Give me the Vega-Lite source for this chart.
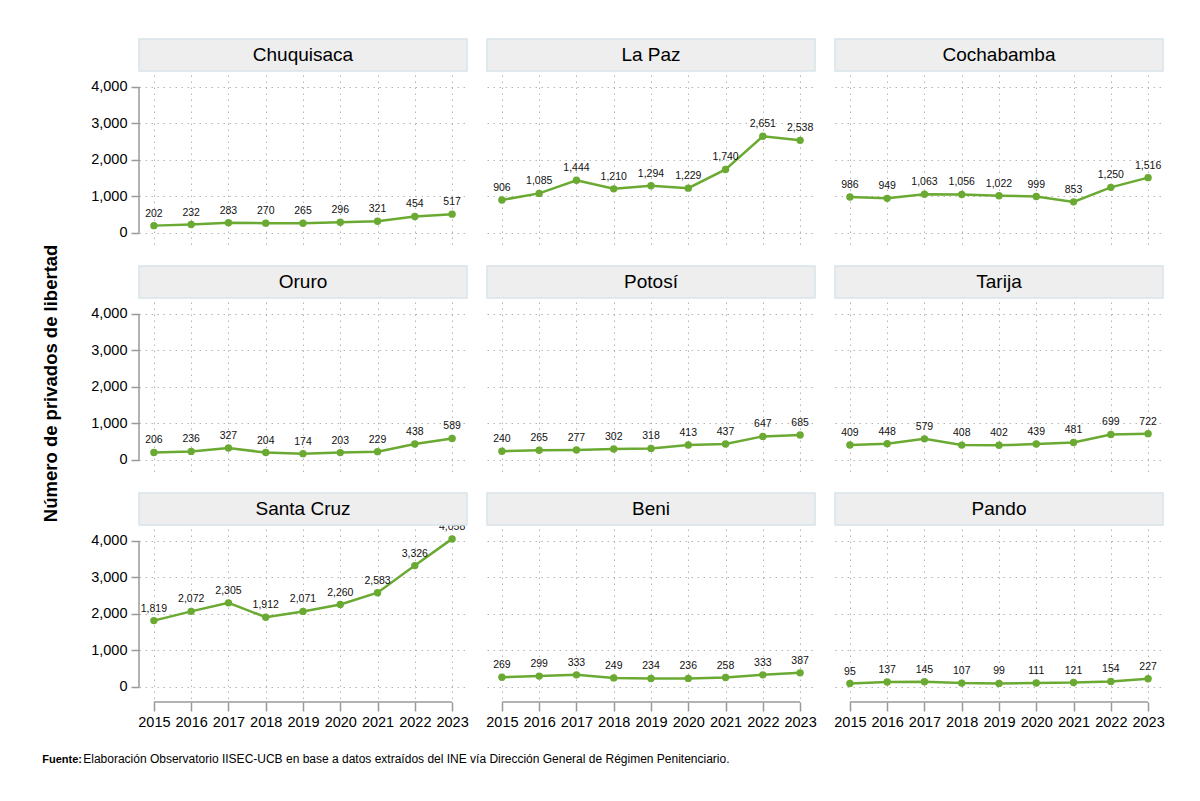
{
  "$schema": "https://vega.github.io/schema/vega-lite/v6.json",
  "padding": {"left": 42, "top": 38, "right": 5, "bottom": 5},
  "background": "white",
  "config": {
    "font": "Liberation Sans, Arial, sans-serif",
    "view": {"stroke": null},
    "axis": {
      "labelFont": "Liberation Sans, Arial, sans-serif",
      "labelColor": "#000000",
      "labelFontSize": 14.5,
      "gridColor": "#b5b5b5",
      "gridDash": [1.5, 4.5],
      "gridWidth": 1,
      "tickColor": "#9a9a9a",
      "tickWidth": 1.5,
      "tickSize": 8,
      "domain": false,
      "labelPadding": 4
    },
    "title": {"color": "#000000"}
  },
  "datasets": {
    "presos": [
      {"dept": "Chuquisaca", "year": 2015, "value": 202},
      {"dept": "Chuquisaca", "year": 2016, "value": 232},
      {"dept": "Chuquisaca", "year": 2017, "value": 283},
      {"dept": "Chuquisaca", "year": 2018, "value": 270},
      {"dept": "Chuquisaca", "year": 2019, "value": 265},
      {"dept": "Chuquisaca", "year": 2020, "value": 296},
      {"dept": "Chuquisaca", "year": 2021, "value": 321},
      {"dept": "Chuquisaca", "year": 2022, "value": 454},
      {"dept": "Chuquisaca", "year": 2023, "value": 517},
      {"dept": "La Paz", "year": 2015, "value": 906},
      {"dept": "La Paz", "year": 2016, "value": 1085},
      {"dept": "La Paz", "year": 2017, "value": 1444},
      {"dept": "La Paz", "year": 2018, "value": 1210},
      {"dept": "La Paz", "year": 2019, "value": 1294},
      {"dept": "La Paz", "year": 2020, "value": 1229},
      {"dept": "La Paz", "year": 2021, "value": 1740},
      {"dept": "La Paz", "year": 2022, "value": 2651},
      {"dept": "La Paz", "year": 2023, "value": 2538},
      {"dept": "Cochabamba", "year": 2015, "value": 986},
      {"dept": "Cochabamba", "year": 2016, "value": 949},
      {"dept": "Cochabamba", "year": 2017, "value": 1063},
      {"dept": "Cochabamba", "year": 2018, "value": 1056},
      {"dept": "Cochabamba", "year": 2019, "value": 1022},
      {"dept": "Cochabamba", "year": 2020, "value": 999},
      {"dept": "Cochabamba", "year": 2021, "value": 853},
      {"dept": "Cochabamba", "year": 2022, "value": 1250},
      {"dept": "Cochabamba", "year": 2023, "value": 1516},
      {"dept": "Oruro", "year": 2015, "value": 206},
      {"dept": "Oruro", "year": 2016, "value": 236},
      {"dept": "Oruro", "year": 2017, "value": 327},
      {"dept": "Oruro", "year": 2018, "value": 204},
      {"dept": "Oruro", "year": 2019, "value": 174},
      {"dept": "Oruro", "year": 2020, "value": 203},
      {"dept": "Oruro", "year": 2021, "value": 229},
      {"dept": "Oruro", "year": 2022, "value": 438},
      {"dept": "Oruro", "year": 2023, "value": 589},
      {"dept": "Potosí", "year": 2015, "value": 240},
      {"dept": "Potosí", "year": 2016, "value": 265},
      {"dept": "Potosí", "year": 2017, "value": 277},
      {"dept": "Potosí", "year": 2018, "value": 302},
      {"dept": "Potosí", "year": 2019, "value": 318},
      {"dept": "Potosí", "year": 2020, "value": 413},
      {"dept": "Potosí", "year": 2021, "value": 437},
      {"dept": "Potosí", "year": 2022, "value": 647},
      {"dept": "Potosí", "year": 2023, "value": 685},
      {"dept": "Tarija", "year": 2015, "value": 409},
      {"dept": "Tarija", "year": 2016, "value": 448},
      {"dept": "Tarija", "year": 2017, "value": 579},
      {"dept": "Tarija", "year": 2018, "value": 408},
      {"dept": "Tarija", "year": 2019, "value": 402},
      {"dept": "Tarija", "year": 2020, "value": 439},
      {"dept": "Tarija", "year": 2021, "value": 481},
      {"dept": "Tarija", "year": 2022, "value": 699},
      {"dept": "Tarija", "year": 2023, "value": 722},
      {"dept": "Santa Cruz", "year": 2015, "value": 1819},
      {"dept": "Santa Cruz", "year": 2016, "value": 2072},
      {"dept": "Santa Cruz", "year": 2017, "value": 2305},
      {"dept": "Santa Cruz", "year": 2018, "value": 1912},
      {"dept": "Santa Cruz", "year": 2019, "value": 2071},
      {"dept": "Santa Cruz", "year": 2020, "value": 2260},
      {"dept": "Santa Cruz", "year": 2021, "value": 2583},
      {"dept": "Santa Cruz", "year": 2022, "value": 3326},
      {"dept": "Santa Cruz", "year": 2023, "value": 4058},
      {"dept": "Beni", "year": 2015, "value": 269},
      {"dept": "Beni", "year": 2016, "value": 299},
      {"dept": "Beni", "year": 2017, "value": 333},
      {"dept": "Beni", "year": 2018, "value": 249},
      {"dept": "Beni", "year": 2019, "value": 234},
      {"dept": "Beni", "year": 2020, "value": 236},
      {"dept": "Beni", "year": 2021, "value": 258},
      {"dept": "Beni", "year": 2022, "value": 333},
      {"dept": "Beni", "year": 2023, "value": 387},
      {"dept": "Pando", "year": 2015, "value": 95},
      {"dept": "Pando", "year": 2016, "value": 137},
      {"dept": "Pando", "year": 2017, "value": 145},
      {"dept": "Pando", "year": 2018, "value": 107},
      {"dept": "Pando", "year": 2019, "value": 99},
      {"dept": "Pando", "year": 2020, "value": 111},
      {"dept": "Pando", "year": 2021, "value": 121},
      {"dept": "Pando", "year": 2022, "value": 154},
      {"dept": "Pando", "year": 2023, "value": 227}
    ]
  },
  "title": {
    "text": "Fuente:",
    "orient": "bottom",
    "anchor": "start",
    "fontSize": 11,
    "fontWeight": "bold",
    "font": "Liberation Sans, Arial, sans-serif",
    "dx": 0,
    "dy": -11,
    "offset": 0
  },
  "vconcat": [
    {
      "title": {
        "text": "Elaboración Observatorio IISEC-UCB en base a datos extraídos del INE vía Dirección General de Régimen Penitenciario.",
        "orient": "bottom",
        "anchor": "start",
        "fontSize": 12,
        "fontWeight": "normal",
        "font": "Liberation Sans, Arial, sans-serif",
        "dx": 41,
        "offset": 25
      },
      "vconcat": [
        {
          "data": {"name": "presos"},
          "title": {
            "text": "Número de privados de libertad",
            "orient": "left",
            "anchor": "middle",
            "fontSize": 18.5,
            "fontWeight": "bold",
            "font": "Liberation Sans, Arial, sans-serif",
            "offset": 30
          },
          "columns": 3,
          "spacing": {"row": 17, "column": 16},
          "concat": [
            {
              "width": 328, "height": 209,
              "transform": [{"filter": {"field": "dept", "equal": "Chuquisaca"}}],
              "layer": [
                {"mark": {"type": "line", "color": "#6aaa32", "strokeWidth": 2.5},
                 "encoding": {
                   "x": {"field": "year", "type": "quantitative", "title": null, "scale": {"domain": [2014.6, 2023.4], "nice": false, "zero": false},
                         "axis": {"values": [2015, 2016, 2017, 2018, 2019, 2020, 2021, 2022, 2023], "grid": true, "labels": false, "ticks": false}},
                   "y": {"field": "value", "type": "quantitative", "title": null, "scale": {"domain": [-411, 5315], "nice": false, "zero": false},
                         "axis": {"values": [0, 1000, 2000, 3000, 4000], "format": ",d", "grid": true, "labelOverlap": false}}}},
                {"mark": {"type": "circle", "color": "#6aaa32", "size": 55, "opacity": 1},
                 "encoding": {"x": {"field": "year", "type": "quantitative", "title": null}, "y": {"field": "value", "type": "quantitative", "title": null}}},
                {"mark": {"type": "text", "fontSize": 10.5, "dy": -12, "baseline": "middle", "color": "#111111"},
                 "encoding": {"x": {"field": "year", "type": "quantitative", "title": null}, "y": {"field": "value", "type": "quantitative", "title": null}, "text": {"field": "value", "type": "quantitative", "format": ","}}},
                {"transform": [{"aggregate": [{"op": "count", "as": "n"}], "groupby": ["dept"]}],
                 "mark": {"type": "rule", "color": "#9a9a9a", "strokeWidth": 1.5},
                 "encoding": {"x": {"datum": 2014.6, "type": "quantitative", "title": null}, "y": {"datum": 0, "type": "quantitative", "title": null}, "y2": {"datum": 4000}}},
                {"transform": [{"aggregate": [{"op": "count", "as": "n"}], "groupby": ["dept"]}],
                 "mark": {"type": "rect", "fill": "#eeeeee", "stroke": "#d8e5ea", "strokeWidth": 1.5},
                 "encoding": {"x": {"datum": 2014.6, "type": "quantitative", "title": null}, "x2": {"datum": 2023.4}, "y": {"datum": 4438, "type": "quantitative", "title": null}, "y2": {"datum": 5315}}},
                {"transform": [{"aggregate": [{"op": "count", "as": "n"}], "groupby": ["dept"]}],
                 "mark": {"type": "text", "fontSize": 19, "baseline": "middle", "align": "center", "color": "#000000"},
                 "encoding": {"x": {"datum": 2019, "type": "quantitative", "title": null}, "y": {"datum": 4877, "type": "quantitative", "title": null}, "text": {"field": "dept", "type": "nominal"}}}
              ]
            },
            {
              "width": 328, "height": 209,
              "transform": [{"filter": {"field": "dept", "equal": "La Paz"}}],
              "layer": [
                {"mark": {"type": "line", "color": "#6aaa32", "strokeWidth": 2.5},
                 "encoding": {
                   "x": {"field": "year", "type": "quantitative", "title": null, "scale": {"domain": [2014.6, 2023.4], "nice": false, "zero": false},
                         "axis": {"values": [2015, 2016, 2017, 2018, 2019, 2020, 2021, 2022, 2023], "grid": true, "labels": false, "ticks": false}},
                   "y": {"field": "value", "type": "quantitative", "title": null, "scale": {"domain": [-411, 5315], "nice": false, "zero": false},
                         "axis": {"values": [0, 1000, 2000, 3000, 4000], "grid": true, "labels": false, "ticks": false}}}},
                {"mark": {"type": "circle", "color": "#6aaa32", "size": 55, "opacity": 1},
                 "encoding": {"x": {"field": "year", "type": "quantitative", "title": null}, "y": {"field": "value", "type": "quantitative", "title": null}}},
                {"mark": {"type": "text", "fontSize": 10.5, "dy": -12, "baseline": "middle", "color": "#111111"},
                 "encoding": {"x": {"field": "year", "type": "quantitative", "title": null}, "y": {"field": "value", "type": "quantitative", "title": null}, "text": {"field": "value", "type": "quantitative", "format": ","}}},
                {"transform": [{"aggregate": [{"op": "count", "as": "n"}], "groupby": ["dept"]}],
                 "mark": {"type": "rect", "fill": "#eeeeee", "stroke": "#d8e5ea", "strokeWidth": 1.5},
                 "encoding": {"x": {"datum": 2014.6, "type": "quantitative", "title": null}, "x2": {"datum": 2023.4}, "y": {"datum": 4438, "type": "quantitative", "title": null}, "y2": {"datum": 5315}}},
                {"transform": [{"aggregate": [{"op": "count", "as": "n"}], "groupby": ["dept"]}],
                 "mark": {"type": "text", "fontSize": 19, "baseline": "middle", "align": "center", "color": "#000000"},
                 "encoding": {"x": {"datum": 2019, "type": "quantitative", "title": null}, "y": {"datum": 4877, "type": "quantitative", "title": null}, "text": {"field": "dept", "type": "nominal"}}}
              ]
            },
            {
              "width": 328, "height": 209,
              "transform": [{"filter": {"field": "dept", "equal": "Cochabamba"}}],
              "layer": [
                {"mark": {"type": "line", "color": "#6aaa32", "strokeWidth": 2.5},
                 "encoding": {
                   "x": {"field": "year", "type": "quantitative", "title": null, "scale": {"domain": [2014.6, 2023.4], "nice": false, "zero": false},
                         "axis": {"values": [2015, 2016, 2017, 2018, 2019, 2020, 2021, 2022, 2023], "grid": true, "labels": false, "ticks": false}},
                   "y": {"field": "value", "type": "quantitative", "title": null, "scale": {"domain": [-411, 5315], "nice": false, "zero": false},
                         "axis": {"values": [0, 1000, 2000, 3000, 4000], "grid": true, "labels": false, "ticks": false}}}},
                {"mark": {"type": "circle", "color": "#6aaa32", "size": 55, "opacity": 1},
                 "encoding": {"x": {"field": "year", "type": "quantitative", "title": null}, "y": {"field": "value", "type": "quantitative", "title": null}}},
                {"mark": {"type": "text", "fontSize": 10.5, "dy": -12, "baseline": "middle", "color": "#111111"},
                 "encoding": {"x": {"field": "year", "type": "quantitative", "title": null}, "y": {"field": "value", "type": "quantitative", "title": null}, "text": {"field": "value", "type": "quantitative", "format": ","}}},
                {"transform": [{"aggregate": [{"op": "count", "as": "n"}], "groupby": ["dept"]}],
                 "mark": {"type": "rect", "fill": "#eeeeee", "stroke": "#d8e5ea", "strokeWidth": 1.5},
                 "encoding": {"x": {"datum": 2014.6, "type": "quantitative", "title": null}, "x2": {"datum": 2023.4}, "y": {"datum": 4438, "type": "quantitative", "title": null}, "y2": {"datum": 5315}}},
                {"transform": [{"aggregate": [{"op": "count", "as": "n"}], "groupby": ["dept"]}],
                 "mark": {"type": "text", "fontSize": 19, "baseline": "middle", "align": "center", "color": "#000000"},
                 "encoding": {"x": {"datum": 2019, "type": "quantitative", "title": null}, "y": {"datum": 4877, "type": "quantitative", "title": null}, "text": {"field": "dept", "type": "nominal"}}}
              ]
            },
            {
              "width": 328, "height": 209,
              "transform": [{"filter": {"field": "dept", "equal": "Oruro"}}],
              "layer": [
                {"mark": {"type": "line", "color": "#6aaa32", "strokeWidth": 2.5},
                 "encoding": {
                   "x": {"field": "year", "type": "quantitative", "title": null, "scale": {"domain": [2014.6, 2023.4], "nice": false, "zero": false},
                         "axis": {"values": [2015, 2016, 2017, 2018, 2019, 2020, 2021, 2022, 2023], "grid": true, "labels": false, "ticks": false}},
                   "y": {"field": "value", "type": "quantitative", "title": null, "scale": {"domain": [-411, 5315], "nice": false, "zero": false},
                         "axis": {"values": [0, 1000, 2000, 3000, 4000], "format": ",d", "grid": true, "labelOverlap": false}}}},
                {"mark": {"type": "circle", "color": "#6aaa32", "size": 55, "opacity": 1},
                 "encoding": {"x": {"field": "year", "type": "quantitative", "title": null}, "y": {"field": "value", "type": "quantitative", "title": null}}},
                {"mark": {"type": "text", "fontSize": 10.5, "dy": -12, "baseline": "middle", "color": "#111111"},
                 "encoding": {"x": {"field": "year", "type": "quantitative", "title": null}, "y": {"field": "value", "type": "quantitative", "title": null}, "text": {"field": "value", "type": "quantitative", "format": ","}}},
                {"transform": [{"aggregate": [{"op": "count", "as": "n"}], "groupby": ["dept"]}],
                 "mark": {"type": "rule", "color": "#9a9a9a", "strokeWidth": 1.5},
                 "encoding": {"x": {"datum": 2014.6, "type": "quantitative", "title": null}, "y": {"datum": 0, "type": "quantitative", "title": null}, "y2": {"datum": 4000}}},
                {"transform": [{"aggregate": [{"op": "count", "as": "n"}], "groupby": ["dept"]}],
                 "mark": {"type": "rect", "fill": "#eeeeee", "stroke": "#d8e5ea", "strokeWidth": 1.5},
                 "encoding": {"x": {"datum": 2014.6, "type": "quantitative", "title": null}, "x2": {"datum": 2023.4}, "y": {"datum": 4438, "type": "quantitative", "title": null}, "y2": {"datum": 5315}}},
                {"transform": [{"aggregate": [{"op": "count", "as": "n"}], "groupby": ["dept"]}],
                 "mark": {"type": "text", "fontSize": 19, "baseline": "middle", "align": "center", "color": "#000000"},
                 "encoding": {"x": {"datum": 2019, "type": "quantitative", "title": null}, "y": {"datum": 4877, "type": "quantitative", "title": null}, "text": {"field": "dept", "type": "nominal"}}}
              ]
            },
            {
              "width": 328, "height": 209,
              "transform": [{"filter": {"field": "dept", "equal": "Potosí"}}],
              "layer": [
                {"mark": {"type": "line", "color": "#6aaa32", "strokeWidth": 2.5},
                 "encoding": {
                   "x": {"field": "year", "type": "quantitative", "title": null, "scale": {"domain": [2014.6, 2023.4], "nice": false, "zero": false},
                         "axis": {"values": [2015, 2016, 2017, 2018, 2019, 2020, 2021, 2022, 2023], "grid": true, "labels": false, "ticks": false}},
                   "y": {"field": "value", "type": "quantitative", "title": null, "scale": {"domain": [-411, 5315], "nice": false, "zero": false},
                         "axis": {"values": [0, 1000, 2000, 3000, 4000], "grid": true, "labels": false, "ticks": false}}}},
                {"mark": {"type": "circle", "color": "#6aaa32", "size": 55, "opacity": 1},
                 "encoding": {"x": {"field": "year", "type": "quantitative", "title": null}, "y": {"field": "value", "type": "quantitative", "title": null}}},
                {"mark": {"type": "text", "fontSize": 10.5, "dy": -12, "baseline": "middle", "color": "#111111"},
                 "encoding": {"x": {"field": "year", "type": "quantitative", "title": null}, "y": {"field": "value", "type": "quantitative", "title": null}, "text": {"field": "value", "type": "quantitative", "format": ","}}},
                {"transform": [{"aggregate": [{"op": "count", "as": "n"}], "groupby": ["dept"]}],
                 "mark": {"type": "rect", "fill": "#eeeeee", "stroke": "#d8e5ea", "strokeWidth": 1.5},
                 "encoding": {"x": {"datum": 2014.6, "type": "quantitative", "title": null}, "x2": {"datum": 2023.4}, "y": {"datum": 4438, "type": "quantitative", "title": null}, "y2": {"datum": 5315}}},
                {"transform": [{"aggregate": [{"op": "count", "as": "n"}], "groupby": ["dept"]}],
                 "mark": {"type": "text", "fontSize": 19, "baseline": "middle", "align": "center", "color": "#000000"},
                 "encoding": {"x": {"datum": 2019, "type": "quantitative", "title": null}, "y": {"datum": 4877, "type": "quantitative", "title": null}, "text": {"field": "dept", "type": "nominal"}}}
              ]
            },
            {
              "width": 328, "height": 209,
              "transform": [{"filter": {"field": "dept", "equal": "Tarija"}}],
              "layer": [
                {"mark": {"type": "line", "color": "#6aaa32", "strokeWidth": 2.5},
                 "encoding": {
                   "x": {"field": "year", "type": "quantitative", "title": null, "scale": {"domain": [2014.6, 2023.4], "nice": false, "zero": false},
                         "axis": {"values": [2015, 2016, 2017, 2018, 2019, 2020, 2021, 2022, 2023], "grid": true, "labels": false, "ticks": false}},
                   "y": {"field": "value", "type": "quantitative", "title": null, "scale": {"domain": [-411, 5315], "nice": false, "zero": false},
                         "axis": {"values": [0, 1000, 2000, 3000, 4000], "grid": true, "labels": false, "ticks": false}}}},
                {"mark": {"type": "circle", "color": "#6aaa32", "size": 55, "opacity": 1},
                 "encoding": {"x": {"field": "year", "type": "quantitative", "title": null}, "y": {"field": "value", "type": "quantitative", "title": null}}},
                {"mark": {"type": "text", "fontSize": 10.5, "dy": -12, "baseline": "middle", "color": "#111111"},
                 "encoding": {"x": {"field": "year", "type": "quantitative", "title": null}, "y": {"field": "value", "type": "quantitative", "title": null}, "text": {"field": "value", "type": "quantitative", "format": ","}}},
                {"transform": [{"aggregate": [{"op": "count", "as": "n"}], "groupby": ["dept"]}],
                 "mark": {"type": "rect", "fill": "#eeeeee", "stroke": "#d8e5ea", "strokeWidth": 1.5},
                 "encoding": {"x": {"datum": 2014.6, "type": "quantitative", "title": null}, "x2": {"datum": 2023.4}, "y": {"datum": 4438, "type": "quantitative", "title": null}, "y2": {"datum": 5315}}},
                {"transform": [{"aggregate": [{"op": "count", "as": "n"}], "groupby": ["dept"]}],
                 "mark": {"type": "text", "fontSize": 19, "baseline": "middle", "align": "center", "color": "#000000"},
                 "encoding": {"x": {"datum": 2019, "type": "quantitative", "title": null}, "y": {"datum": 4877, "type": "quantitative", "title": null}, "text": {"field": "dept", "type": "nominal"}}}
              ]
            },
            {
              "width": 328, "height": 209,
              "transform": [{"filter": {"field": "dept", "equal": "Santa Cruz"}}],
              "layer": [
                {"mark": {"type": "line", "color": "#6aaa32", "strokeWidth": 2.5},
                 "encoding": {
                   "x": {"field": "year", "type": "quantitative", "title": null, "scale": {"domain": [2014.6, 2023.4], "nice": false, "zero": false},
                         "axis": {"values": [2015, 2016, 2017, 2018, 2019, 2020, 2021, 2022, 2023], "format": "d", "grid": true, "labelFlush": false, "labelOverlap": false, "tickSize": 9}},
                   "y": {"field": "value", "type": "quantitative", "title": null, "scale": {"domain": [-411, 5315], "nice": false, "zero": false},
                         "axis": {"values": [0, 1000, 2000, 3000, 4000], "format": ",d", "grid": true, "labelOverlap": false}}}},
                {"mark": {"type": "circle", "color": "#6aaa32", "size": 55, "opacity": 1},
                 "encoding": {"x": {"field": "year", "type": "quantitative", "title": null}, "y": {"field": "value", "type": "quantitative", "title": null}}},
                {"mark": {"type": "text", "fontSize": 10.5, "dy": -12, "baseline": "middle", "color": "#111111"},
                 "encoding": {"x": {"field": "year", "type": "quantitative", "title": null}, "y": {"field": "value", "type": "quantitative", "title": null}, "text": {"field": "value", "type": "quantitative", "format": ","}}},
                {"transform": [{"aggregate": [{"op": "count", "as": "n"}], "groupby": ["dept"]}],
                 "mark": {"type": "rule", "color": "#9a9a9a", "strokeWidth": 1.5},
                 "encoding": {"x": {"datum": 2014.6, "type": "quantitative", "title": null}, "y": {"datum": 0, "type": "quantitative", "title": null}, "y2": {"datum": 4000}}},
                {"transform": [{"aggregate": [{"op": "count", "as": "n"}], "groupby": ["dept"]}],
                 "mark": {"type": "rule", "color": "#9a9a9a", "strokeWidth": 1.5},
                 "encoding": {"x": {"datum": 2015, "type": "quantitative", "title": null}, "x2": {"datum": 2023}, "y": {"datum": -411, "type": "quantitative", "title": null}}},
                {"transform": [{"aggregate": [{"op": "count", "as": "n"}], "groupby": ["dept"]}],
                 "mark": {"type": "rect", "fill": "#eeeeee", "stroke": "#d8e5ea", "strokeWidth": 1.5},
                 "encoding": {"x": {"datum": 2014.6, "type": "quantitative", "title": null}, "x2": {"datum": 2023.4}, "y": {"datum": 4438, "type": "quantitative", "title": null}, "y2": {"datum": 5315}}},
                {"transform": [{"aggregate": [{"op": "count", "as": "n"}], "groupby": ["dept"]}],
                 "mark": {"type": "text", "fontSize": 19, "baseline": "middle", "align": "center", "color": "#000000"},
                 "encoding": {"x": {"datum": 2019, "type": "quantitative", "title": null}, "y": {"datum": 4877, "type": "quantitative", "title": null}, "text": {"field": "dept", "type": "nominal"}}}
              ]
            },
            {
              "width": 328, "height": 209,
              "transform": [{"filter": {"field": "dept", "equal": "Beni"}}],
              "layer": [
                {"mark": {"type": "line", "color": "#6aaa32", "strokeWidth": 2.5},
                 "encoding": {
                   "x": {"field": "year", "type": "quantitative", "title": null, "scale": {"domain": [2014.6, 2023.4], "nice": false, "zero": false},
                         "axis": {"values": [2015, 2016, 2017, 2018, 2019, 2020, 2021, 2022, 2023], "format": "d", "grid": true, "labelFlush": false, "labelOverlap": false, "tickSize": 9}},
                   "y": {"field": "value", "type": "quantitative", "title": null, "scale": {"domain": [-411, 5315], "nice": false, "zero": false},
                         "axis": {"values": [0, 1000, 2000, 3000, 4000], "grid": true, "labels": false, "ticks": false}}}},
                {"mark": {"type": "circle", "color": "#6aaa32", "size": 55, "opacity": 1},
                 "encoding": {"x": {"field": "year", "type": "quantitative", "title": null}, "y": {"field": "value", "type": "quantitative", "title": null}}},
                {"mark": {"type": "text", "fontSize": 10.5, "dy": -12, "baseline": "middle", "color": "#111111"},
                 "encoding": {"x": {"field": "year", "type": "quantitative", "title": null}, "y": {"field": "value", "type": "quantitative", "title": null}, "text": {"field": "value", "type": "quantitative", "format": ","}}},
                {"transform": [{"aggregate": [{"op": "count", "as": "n"}], "groupby": ["dept"]}],
                 "mark": {"type": "rule", "color": "#9a9a9a", "strokeWidth": 1.5},
                 "encoding": {"x": {"datum": 2015, "type": "quantitative", "title": null}, "x2": {"datum": 2023}, "y": {"datum": -411, "type": "quantitative", "title": null}}},
                {"transform": [{"aggregate": [{"op": "count", "as": "n"}], "groupby": ["dept"]}],
                 "mark": {"type": "rect", "fill": "#eeeeee", "stroke": "#d8e5ea", "strokeWidth": 1.5},
                 "encoding": {"x": {"datum": 2014.6, "type": "quantitative", "title": null}, "x2": {"datum": 2023.4}, "y": {"datum": 4438, "type": "quantitative", "title": null}, "y2": {"datum": 5315}}},
                {"transform": [{"aggregate": [{"op": "count", "as": "n"}], "groupby": ["dept"]}],
                 "mark": {"type": "text", "fontSize": 19, "baseline": "middle", "align": "center", "color": "#000000"},
                 "encoding": {"x": {"datum": 2019, "type": "quantitative", "title": null}, "y": {"datum": 4877, "type": "quantitative", "title": null}, "text": {"field": "dept", "type": "nominal"}}}
              ]
            },
            {
              "width": 328, "height": 209,
              "transform": [{"filter": {"field": "dept", "equal": "Pando"}}],
              "layer": [
                {"mark": {"type": "line", "color": "#6aaa32", "strokeWidth": 2.5},
                 "encoding": {
                   "x": {"field": "year", "type": "quantitative", "title": null, "scale": {"domain": [2014.6, 2023.4], "nice": false, "zero": false},
                         "axis": {"values": [2015, 2016, 2017, 2018, 2019, 2020, 2021, 2022, 2023], "format": "d", "grid": true, "labelFlush": false, "labelOverlap": false, "tickSize": 9}},
                   "y": {"field": "value", "type": "quantitative", "title": null, "scale": {"domain": [-411, 5315], "nice": false, "zero": false},
                         "axis": {"values": [0, 1000, 2000, 3000, 4000], "grid": true, "labels": false, "ticks": false}}}},
                {"mark": {"type": "circle", "color": "#6aaa32", "size": 55, "opacity": 1},
                 "encoding": {"x": {"field": "year", "type": "quantitative", "title": null}, "y": {"field": "value", "type": "quantitative", "title": null}}},
                {"mark": {"type": "text", "fontSize": 10.5, "dy": -12, "baseline": "middle", "color": "#111111"},
                 "encoding": {"x": {"field": "year", "type": "quantitative", "title": null}, "y": {"field": "value", "type": "quantitative", "title": null}, "text": {"field": "value", "type": "quantitative", "format": ","}}},
                {"transform": [{"aggregate": [{"op": "count", "as": "n"}], "groupby": ["dept"]}],
                 "mark": {"type": "rule", "color": "#9a9a9a", "strokeWidth": 1.5},
                 "encoding": {"x": {"datum": 2015, "type": "quantitative", "title": null}, "x2": {"datum": 2023}, "y": {"datum": -411, "type": "quantitative", "title": null}}},
                {"transform": [{"aggregate": [{"op": "count", "as": "n"}], "groupby": ["dept"]}],
                 "mark": {"type": "rect", "fill": "#eeeeee", "stroke": "#d8e5ea", "strokeWidth": 1.5},
                 "encoding": {"x": {"datum": 2014.6, "type": "quantitative", "title": null}, "x2": {"datum": 2023.4}, "y": {"datum": 4438, "type": "quantitative", "title": null}, "y2": {"datum": 5315}}},
                {"transform": [{"aggregate": [{"op": "count", "as": "n"}], "groupby": ["dept"]}],
                 "mark": {"type": "text", "fontSize": 19, "baseline": "middle", "align": "center", "color": "#000000"},
                 "encoding": {"x": {"datum": 2019, "type": "quantitative", "title": null}, "y": {"datum": 4877, "type": "quantitative", "title": null}, "text": {"field": "dept", "type": "nominal"}}}
              ]
            }
          ]
        }
      ]
    }
  ]
}
